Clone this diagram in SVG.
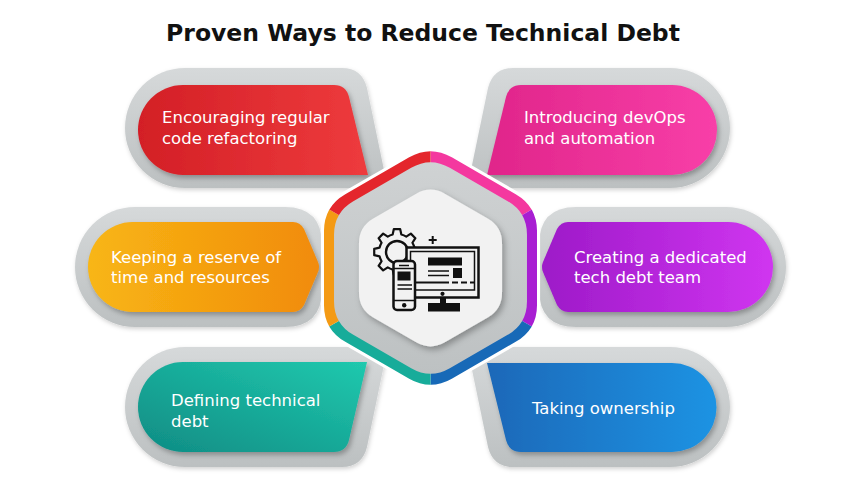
<svg xmlns="http://www.w3.org/2000/svg" width="846" height="480" viewBox="0 0 846 480">
<style>
.g{fill:url(#gGray);filter:url(#shg)}
.c{filter:url(#sh)}
.t{font-family:"DejaVu Sans",sans-serif;font-size:16.5px;fill:#fff}
.title{font-family:"DejaVu Sans",sans-serif;font-weight:bold;font-size:23.5px;fill:#111}
.ik{stroke:#111;fill:none}
</style>
<defs>
<linearGradient id="gGray" x1="0" y1="0" x2="0" y2="1"><stop offset="0" stop-color="#d6d9da"/><stop offset="1" stop-color="#bcc0c1"/></linearGradient>
<linearGradient id="gRed" x1="0" y1="0" x2="1" y2="0"><stop offset="0" stop-color="#d31f26"/><stop offset="1" stop-color="#ee3b3d"/></linearGradient>
<linearGradient id="gPink" x1="0" y1="0" x2="1" y2="0"><stop offset="0" stop-color="#e0258a"/><stop offset="1" stop-color="#f83fa8"/></linearGradient>
<linearGradient id="gOrange" x1="0" y1="0" x2="1" y2="0"><stop offset="0" stop-color="#f8b614"/><stop offset="1" stop-color="#f18b0c"/></linearGradient>
<linearGradient id="gPurple" x1="0" y1="0" x2="1" y2="0"><stop offset="0" stop-color="#9d1ac8"/><stop offset="1" stop-color="#d035f0"/></linearGradient>
<linearGradient id="gTeal" x1="0" y1="1" x2="1" y2="0"><stop offset="0" stop-color="#0f8c84"/><stop offset="1" stop-color="#20c9ae"/></linearGradient>
<linearGradient id="gBlue" x1="0" y1="0" x2="1" y2="0"><stop offset="0" stop-color="#1a68b8"/><stop offset="1" stop-color="#1b93e3"/></linearGradient>
<linearGradient id="gHexGray" x1="0" y1="0" x2="0" y2="1"><stop offset="0" stop-color="#cfd2d3"/><stop offset="1" stop-color="#bdc1c2"/></linearGradient>
<filter id="sh" x="-10%" y="-15%" width="125%" height="140%"><feDropShadow dx="2" dy="3" stdDeviation="2.5" flood-color="#000" flood-opacity="0.28"/></filter>
<filter id="shg" x="-10%" y="-15%" width="125%" height="140%"><feDropShadow dx="1" dy="2" stdDeviation="2" flood-color="#000" flood-opacity="0.18"/></filter>
<filter id="shi" x="-20%" y="-20%" width="140%" height="140%"><feDropShadow dx="3" dy="4" stdDeviation="4" flood-color="#000" flood-opacity="0.3"/></filter>
<path id="hex" d="M-17.32,-90 Q0,-100 17.32,-90 L69.28,-60 Q86.6,-50 86.6,-30 L86.6,30 Q86.6,50 69.28,60 L17.32,90 Q0,100 -17.32,90 L-69.28,60 Q-86.6,50 -86.6,30 L-86.6,-30 Q-86.6,-50 -69.28,-60 Z"/>
<clipPath id="hexClip"><use href="#hex" transform="translate(430.5 268) scale(1.23)"/></clipPath>
</defs>

<rect width="846" height="480" fill="#fff"/>

<g id="title"><text class="title" x="423" y="41" text-anchor="middle">Proven Ways to Reduce Technical Debt</text></g>

<g id="connectors"></g>

<g id="node-refactoring">
<path class="g" d="M185,68 H342 Q362,68 367,88 L384,170 Q387,188 370,188 H185 A60,60 0 0 1 185,68 Z"/>
<path class="c" fill="url(#gRed)" d="M183,85 H334 Q346,85 349,97 L368,175 H183 A45,45 0 0 1 183,85 Z"/>
<text class="t" x="162" y="123">Encouraging regular</text>
<text class="t" x="162" y="144">code refactoring</text>
</g>

<g id="node-devops">
<path class="g" d="M670,68 H513 Q493,68 488,88 L471,170 Q468,188 485,188 H670 A60,60 0 0 0 670,68 Z"/>
<path class="c" fill="url(#gPink)" d="M672,85 H521 Q509,85 506,97 L487,175 H672 A45,45 0 0 0 672,85 Z"/>
<text class="t" x="524" y="123">Introducing devOps</text>
<text class="t" x="524" y="144">and automation</text>
</g>

<g id="node-reserve">
<path class="g" d="M135,207 H285 Q322,207 322,245 V289 Q322,327 285,327 H135 A60,60 0 0 1 135,207 Z"/>
<path class="c" fill="url(#gOrange)" d="M133,222 H293 Q300,222 304,229 L318,262 Q320,267 318,272 L304,305 Q300,312 293,312 H133 A45,45 0 0 1 133,222 Z"/>
<text class="t" x="111" y="263">Keeping a reserve of</text>
<text class="t" x="111" y="283">time and resources</text>
</g>

<g id="node-team">
<path class="g" d="M726,207 H576 Q539,207 539,245 V289 Q539,327 576,327 H726 A60,60 0 0 0 726,207 Z"/>
<path class="c" fill="url(#gPurple)" d="M728,222 H568 Q561,222 557,229 L543,262 Q541,267 543,272 L557,305 Q561,312 568,312 H728 A45,45 0 0 0 728,222 Z"/>
<text class="t" x="574" y="263">Creating a dedicated</text>
<text class="t" x="574" y="283">tech debt team</text>
</g>

<g id="node-defining">
<path class="g" d="M185,467 H342 Q362,467 367,447 L384,365 Q387,347 370,347 H185 A60,60 0 0 0 185,467 Z"/>
<path class="c" fill="url(#gTeal)" d="M183,362 H367 L349,440 Q346,452 334,452 H183 A45,45 0 0 1 183,362 Z"/>
<text class="t" x="171" y="406">Defining technical</text>
<text class="t" x="171" y="427">debt</text>
</g>

<g id="node-ownership">
<path class="g" d="M670,467 H513 Q493,467 488,447 L471,365 Q468,347 485,347 H670 A60,60 0 0 1 670,467 Z"/>
<path class="c" fill="url(#gBlue)" d="M672,363 H487 L506,440 Q509,452 521,452 H672 A44.5,44.5 0 0 0 672,363 Z"/>
<text class="t" x="532" y="414">Taking ownership</text>
</g>

<g id="node-center">
<use href="#hex" transform="translate(430.5 268) scale(1.23)" fill="#fff" stroke="#fff" stroke-width="5"/>
<g clip-path="url(#hexClip)">
<polygon points="430.5,268 430.5,68 603.7,168" fill="#f4389f"/>
<polygon points="430.5,268 603.7,168 603.7,368" fill="#a81ed2"/>
<polygon points="430.5,268 603.7,368 430.5,468" fill="#1769b7"/>
<polygon points="430.5,268 430.5,468 257.3,368" fill="#17ac9a"/>
<polygon points="430.5,268 257.3,368 257.3,168" fill="#f49a14"/>
<polygon points="430.5,268 257.3,168 430.5,68" fill="#e4262c"/>
</g>
<use href="#hex" transform="translate(430.5 268) scale(1.114)" fill="url(#gHexGray)"/>
<use href="#hex" transform="translate(430.5 268) scale(0.826)" fill="#f2f2f2" filter="url(#shi)"/>
<g id="icon">
<g transform="translate(397 252)">
<path class="ik" stroke-width="2.2" stroke-linejoin="round" d="M17.47,-4.35 L22.78,-3.2 L22.78,3.2 L17.47,4.35 A18,18 0 0 1 15.43,9.27 L18.37,13.84 L13.84,18.37 L9.27,15.43 A18,18 0 0 1 4.35,17.47 L3.2,22.78 L-3.2,22.78 L-4.35,17.47 A18,18 0 0 1 -9.27,15.43 L-13.84,18.37 L-18.37,13.84 L-15.43,9.27 A18,18 0 0 1 -17.47,4.35 L-22.78,3.2 L-22.78,-3.2 L-17.47,-4.35 A18,18 0 0 1 -15.43,-9.27 L-18.37,-13.84 L-13.84,-18.37 L-9.27,-15.43 A18,18 0 0 1 -4.35,-17.47 L-3.2,-22.78 L3.2,-22.78 L4.35,-17.47 A18,18 0 0 1 9.27,-15.43 L13.84,-18.37 L18.37,-13.84 L15.43,-9.27 A18,18 0 0 1 17.47,-4.35 Z"/>
<circle class="ik" r="11" stroke-width="2.4"/>
</g>
<path class="ik" stroke-width="2" d="M432.7,236 V244 M428.7,240 H436.7"/>
<rect x="406.5" y="247.5" width="72" height="50" fill="#f2f2f2" stroke="#111" stroke-width="2.5"/>
<rect class="ik" x="410.5" y="251.5" width="64" height="38.5" stroke-width="1.5"/>
<rect x="428" y="257.5" width="34" height="8" fill="#111"/>
<rect x="453" y="268" width="9" height="10" fill="#111"/>
<path class="ik" stroke-width="1.6" d="M428,271 H449 M428,275.5 H449"/>
<path class="ik" stroke-width="1.8" d="M415,282.5 H449 M452,282.5 H458 M461,282.5 H467 M470,282.5 H474"/>
<circle cx="442.5" cy="293.8" r="2.1" fill="#111"/>
<rect x="440" y="297" width="6" height="7" fill="#111"/>
<rect x="428" y="303" width="32" height="8.5" fill="#111"/>
<rect x="393.5" y="261" width="21.5" height="49" rx="3.5" fill="#f2f2f2" stroke="#111" stroke-width="2.5"/>
<path class="ik" stroke-width="1.6" d="M399,265.5 H409 M394,268.5 H414 M394,300.5 H414 M397.5,285 H412 M397.5,289 H412"/>
<rect x="397.5" y="271.5" width="13" height="9" fill="#111"/>
<circle cx="404.2" cy="305.3" r="2.2" fill="#111"/>
</g>
</g>
</svg>
